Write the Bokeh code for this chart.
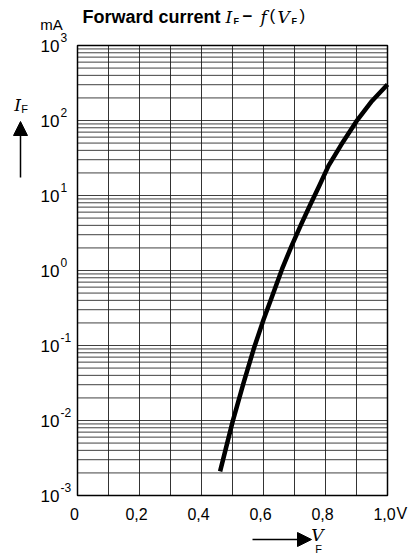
from bokeh.plotting import figure
from bokeh.models import Range1d, Label, Arrow, NormalHead
from bokeh.core.properties import value
from bokeh.embed import file_html
from bokeh.resources import INLINE
import math

# Data: forward voltage (V) vs forward current (mA)
v_f = [0.46, 0.50, 0.535, 0.568, 0.60, 0.63, 0.66, 0.69, 0.72, 0.75,
       0.78, 0.81, 0.85, 0.90, 0.95, 1.0]
i_f = [0.0021, 0.0095, 0.031, 0.089, 0.22, 0.48, 1.05, 2.1, 4.0, 7.4,
       13.5, 25.0, 47.0, 98.0, 182.0, 302.0]

# Axis ticks and labels
x_ticks = [0.0, 0.2, 0.4, 0.6, 0.8, 1.0]
x_tick_labels = ["0", "0,2", "0,4", "0,6", "0,8", "1,0"]
x_minor = [0.1, 0.3, 0.5, 0.7, 0.9]
y_decades = [1e3, 1e2, 1e1, 1e0, 1e-1, 1e-2, 1e-3]
y_exponents = ["3", "2", "1", "0", "-1", "-2", "-3"]
y_minor = [m * d for d in y_decades[1:] for m in range(2, 10)]

FONT = "'Liberation Sans', Arial, sans-serif"
BOLD = "'Liberation Sans', Arial, sans-serif"
SERIF = "'DejaVu Serif', serif"

W, H = 408, 555
# plot box inside the canvas (pixels): left, right, top, bottom
BX0, BX1, BY0, BY1 = 77, 387, 45, 495
x_lo, x_hi = min(x_ticks), max(x_ticks)
y_lo, y_hi = min(y_decades), max(y_decades)
px_per_x = (BX1 - BX0) / (x_hi - x_lo)
px_per_dec = (BY1 - BY0) / (math.log10(y_hi) - math.log10(y_lo))

p = figure(width=W, height=H, output_backend="svg", toolbar_location=None,
           y_axis_type="log",
           x_range=Range1d(x_lo - BX0 / px_per_x, x_hi + (W - BX1) / px_per_x),
           y_range=Range1d(10 ** (math.log10(y_lo) - (H - BY1) / px_per_dec),
                           10 ** (math.log10(y_hi) + BY0 / px_per_dec)),
           x_axis_location=None, y_axis_location=None,
           min_border=0)
p.min_border_left = p.min_border_right = p.min_border_top = p.min_border_bottom = 0
p.outline_line_color = None
p.background_fill_color = "white"
p.border_fill_color = "white"
p.grid.visible = False

GRID = "#1e1e1e"
# vertical grid lines
vx = x_ticks + x_minor
p.segment(x0=vx, y0=[y_lo] * len(vx), x1=vx, y1=[y_hi] * len(vx),
          line_color=GRID, line_width=1, line_alpha=0.9)
# horizontal grid lines
hy = y_decades + y_minor
p.segment(x0=[x_lo] * len(hy), y0=hy, x1=[x_hi] * len(hy), y1=hy,
          line_color=GRID, line_width=1, line_alpha=0.85)
# frame
p.quad(left=[x_lo], right=[x_hi], bottom=[y_lo], top=[y_hi],
       fill_color=None, line_color="black", line_width=1.5)

# Tick labels
p.text(x=x_ticks, y=[y_lo] * len(x_ticks), text=x_tick_labels,
       text_font=value(FONT), text_font_size="16px", text_align="center",
       text_baseline="middle", x_offset=-3, y_offset=18, text_color="black")
p.text(x=[x_lo] * len(y_decades), y=y_decades, text=["10"] * len(y_decades),
       text_font=value(FONT), text_font_size="17px", text_align="right",
       text_baseline="middle", x_offset=-18, text_color="black")
p.text(x=[x_lo] * len(y_decades), y=y_decades, text=y_exponents,
       text_font=value(FONT), text_font_size="12px", text_align="left",
       text_baseline="middle", x_offset=-17, y_offset=-8, text_color="black")

# Curve
p.line(v_f, i_f, line_color="black", line_width=4.5, line_join="round")

# Labels in canvas pixels (X from left, Y from top)
def lab(X, Y, text, size, font=FONT, style="normal", align="left", baseline="middle"):
    p.add_layout(Label(x=X, y=H - Y, x_units="screen", y_units="screen", text=text,
                       text_font=font, text_font_size=size, text_font_style=style,
                       text_align=align, text_baseline=baseline, text_color="black"))

# Title
lab(82, 16, "Forward current", "18px", font=BOLD, style="bold")
lab(225, 16, "I", "17px", font=SERIF, style="italic")
lab(233, 20, "F", "9px", font=BOLD, style="bold")
lab(242, 15, "\u2212", "17px", font=BOLD, style="bold")
lab(260, 16, "f", "17px", font=SERIF, style="italic")
lab(269, 15, "(", "17px", font=BOLD)
lab(277, 16, "V", "17px", font=SERIF, style="italic")
lab(291, 20, "F", "9px", font=BOLD, style="bold")
lab(299, 15, ")", "17px", font=BOLD)

# Unit and axis labels
lab(51, 24, "mA", "15px", align="center")
lab(17, 104, "I", "17px", font=SERIF, style="italic", align="center")
lab(24, 108, "F", "11px", align="center")
lab(396, 513, "V", "16px", align="left")
lab(317, 534, "V", "17px", font=SERIF, style="italic", align="center")
lab(318, 548, "F", "11px", align="center")

# Arrows
head = dict(size=14, fill_color="black", line_color="black")
p.add_layout(Arrow(x_start=20, y_start=H - 177, x_end=20, y_end=H - 121,
                   start_units="screen", end_units="screen",
                   line_color="black", line_width=1.5, end=NormalHead(**head)))
p.add_layout(Arrow(x_start=252, y_start=H - 539, x_end=311, y_end=H - 539,
                   start_units="screen", end_units="screen",
                   line_color="black", line_width=1.5, end=NormalHead(**head)))

open("out.html", "w").write(file_html(p, INLINE))
